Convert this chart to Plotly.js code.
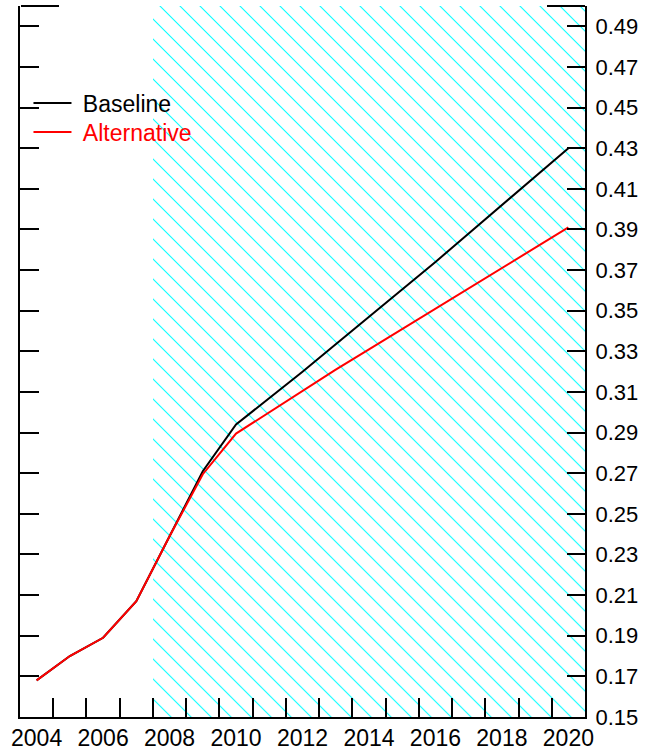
<!DOCTYPE html>
<html>
<head>
<meta charset="utf-8">
<script src="https://cdn.plot.ly/plotly-3.0.1.min.js"></script>
<style>
  html, body { margin: 0; padding: 0; background: #ffffff; }
  #chart { width: 660px; height: 753px; }
</style>
</head>
<body>
<div id="chart"></div>
<script>
// ---- data ----
const years = [2004, 2005, 2006, 2007, 2008, 2009, 2010, 2011, 2012, 2013, 2014, 2015, 2016, 2017, 2018, 2019, 2020];
const baseline = [0.168, 0.180, 0.189, 0.207, 0.239, 0.271, 0.294, 0.307, 0.320, 0.3335, 0.347, 0.3605, 0.374, 0.388, 0.402, 0.416, 0.430];
const alternative = [0.168, 0.180, 0.189, 0.207, 0.239, 0.2695, 0.2895, 0.300, 0.3105, 0.321, 0.331, 0.341, 0.351, 0.361, 0.371, 0.381, 0.391];
const forecastYears = [2008, 2009, 2010, 2011, 2012, 2013, 2014, 2015, 2016, 2017, 2018, 2019, 2020];
const xLabelYears = [2004, 2006, 2008, 2010, 2012, 2014, 2016, 2018, 2020];
const xLabelText = ['2004', '2006', '2008', '2010', '2012', '2014', '2016', '2018', '2020'];
const yTickVals = [0.15, 0.17, 0.19, 0.21, 0.23, 0.25, 0.27, 0.29, 0.31, 0.33, 0.35, 0.37, 0.39, 0.41, 0.43, 0.45, 0.47, 0.49];
const yTickText = ['0.15', '0.17', '0.19', '0.21', '0.23', '0.25', '0.27', '0.29', '0.31', '0.33', '0.35', '0.37', '0.39', '0.41', '0.43', '0.45', '0.47', '0.49'];
const yMin = 0.15, yMax = 0.50;
const seriesNames = ['Baseline', 'Alternative'];
const seriesColors = ['#000000', '#FF0000'];

// ---- derived ----
const xMin = years[0] - 0.5, xMax = years[years.length - 1] + 0.5;
const yearBoundaries = years.slice(1).map(y => y - 0.5);
const fStart = forecastYears[0] - 0.5, fEnd = forecastYears[forecastYears.length - 1] + 0.5;

const FONT = 'Liberation Sans, Arial, sans-serif';
const NBSP = '\u00A0';

function ghost(xa, ya) {
  return {
    type: 'scatter', mode: 'lines', x: years, y: baseline,
    line: { color: 'rgba(0,0,0,0)', width: 0 }, opacity: 0,
    showlegend: false, hoverinfo: 'skip', xaxis: xa, yaxis: ya
  };
}

const traces = [
  {
    type: 'bar',
    x: [(fStart + fEnd) / 2],
    y: [yMax - yMin],
    base: [yMin],
    width: [fEnd - fStart],
    marker: {
      color: 'rgba(0,0,0,0)',
      line: { width: 0 },
      pattern: { shape: '\\', fgcolor: '#00FFFF', bgcolor: 'rgba(0,0,0,0)', size: 14.14, solidity: 0.075, fillmode: 'replace' }
    },
    showlegend: false,
    hoverinfo: 'skip',
    xaxis: 'x', yaxis: 'y'
  },
  ghost('x2', 'y2'),
  ghost('x', 'y3'),
  ghost('x', 'y4'),
  {
    type: 'scatter', mode: 'lines',
    x: years, y: baseline, name: NBSP + seriesNames[0],
    line: { color: seriesColors[0], width: 2 },
    xaxis: 'x', yaxis: 'y', legend: 'legend'
  },
  {
    type: 'scatter', mode: 'lines',
    x: years, y: alternative, name: NBSP + seriesNames[1],
    line: { color: seriesColors[1], width: 2 },
    xaxis: 'x', yaxis: 'y', legend: 'legend2'
  }
];

const baseAxis = { showgrid: false, zeroline: false, fixedrange: true };

function legendAt(y, color) {
  return {
    x: 0.015, y: y, xanchor: 'left', yanchor: 'top',
    bgcolor: 'rgba(0,0,0,0)', borderwidth: 0,
    font: { family: FONT, size: 23, color: color },
    itemwidth: 38
  };
}

const layout = {
  width: 660, height: 753,
  margin: { l: 20, r: 75, t: 6, b: 36, pad: 0 },
  paper_bgcolor: '#ffffff', plot_bgcolor: '#ffffff',
  font: { family: FONT, size: 22, color: '#000000' },
  showlegend: true,
  legend: legendAt(0.8938, seriesColors[0]),
  legend2: legendAt(0.853, seriesColors[1]),
  bargap: 0,
  xaxis: Object.assign({}, baseAxis, {
    range: [xMin, xMax],
    showline: true, linecolor: '#000000', linewidth: 2,
    ticks: 'inside', ticklen: 19, tickwidth: 2, tickcolor: '#000000',
    tickmode: 'array', tickvals: yearBoundaries, showticklabels: false
  }),
  xaxis2: Object.assign({}, baseAxis, {
    range: [xMin, xMax], overlaying: 'x', anchor: 'y2', side: 'bottom',
    showline: false, ticks: '', ticklabelstandoff: 5,
    tickmode: 'array', tickvals: xLabelYears, ticktext: xLabelText,
    tickfont: { family: FONT, size: 23, color: '#000000' }
  }),
  yaxis: Object.assign({}, baseAxis, {
    range: [yMin, yMax], side: 'left',
    showline: true, linecolor: '#000000', linewidth: 2,
    ticks: 'inside', ticklen: 19, tickwidth: 2, tickcolor: '#000000',
    tickmode: 'array', tickvals: yTickVals.slice(1), showticklabels: false
  }),
  yaxis2: Object.assign({}, baseAxis, {
    range: [yMin, yMax], overlaying: 'y', anchor: 'x2', side: 'right',
    showline: true, linecolor: '#000000', linewidth: 2,
    ticks: 'inside', ticklen: 18, tickwidth: 2, tickcolor: '#000000',
    ticklabelstandoff: 4,
    tickmode: 'array', tickvals: yTickVals, ticktext: yTickText,
    tickfont: { family: FONT, size: 22, color: '#000000' }
  }),
  yaxis3: Object.assign({}, baseAxis, {
    range: [yMin, yMax], overlaying: 'y', anchor: 'free', position: 0, side: 'right',
    showline: false, ticks: 'outside', ticklen: 38, tickwidth: 2, tickcolor: '#000000',
    tickmode: 'array', tickvals: [yMax], showticklabels: false
  }),
  yaxis4: Object.assign({}, baseAxis, {
    range: [yMin, yMax], overlaying: 'y', anchor: 'free', position: 1, side: 'left',
    showline: false, ticks: 'outside', ticklen: 38, tickwidth: 2, tickcolor: '#000000',
    tickmode: 'array', tickvals: [yMax], showticklabels: false
  })
};

Plotly.newPlot('chart', traces, layout, { staticPlot: true, displayModeBar: false });
</script>
</body>
</html>
